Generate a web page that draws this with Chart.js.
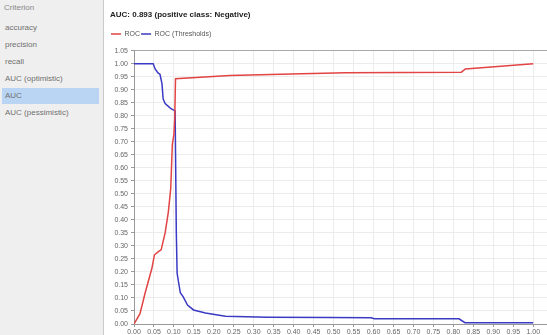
<!DOCTYPE html>
<html><head><meta charset="utf-8">
<script src="https://cdn.jsdelivr.net/npm/chart.js@4/dist/chart.umd.min.js"></script>
<style>
html,body{margin:0;padding:0;width:547px;height:335px;overflow:hidden;background:#fff;font-family:"Liberation Sans",Arial,sans-serif;}
#side{position:absolute;left:0;top:0;width:103px;height:335px;background:#efefef;border-right:1px solid #c9c9c9;}
#side .hd{position:absolute;left:4px;top:3px;font-size:8px;color:#888;}
#side .it{position:absolute;left:2px;width:97px;height:16px;line-height:16px;font-size:8px;color:#707070;padding-left:3px;box-sizing:border-box;}
#side .sel{background:#b9d5f3;}
#wrap{position:absolute;left:104px;top:0;width:457px;height:340px;}
</style></head>
<body>
<div id="side">
  <div class="hd">Criterion</div>
  <div class="it" style="top:20px">accuracy</div>
  <div class="it" style="top:37px">precision</div>
  <div class="it" style="top:54px">recall</div>
  <div class="it" style="top:71px">AUC (optimistic)</div>
  <div class="it sel" style="top:88px">AUC</div>
  <div class="it" style="top:105px">AUC (pessimistic)</div>
</div>
<div id="wrap"><canvas id="c"></canvas></div>
<script>
const chartTitle = "AUC: 0.893 (positive class: Negative)";
const seriesNames = ["ROC", "ROC (Thresholds)"];
// ROC curve: false positive rate -> true positive rate
const rocFpr = [0, 0.015, 0.028, 0.045, 0.051, 0.061, 0.068, 0.078, 0.086, 0.092, 0.096, 0.100, 0.102, 0.104, 0.24, 0.42, 0.53, 0.82, 0.83, 1.0];
const rocTpr = [0, 0.04, 0.12, 0.215, 0.265, 0.278, 0.285, 0.35, 0.43, 0.52, 0.69, 0.73, 0.79, 0.943, 0.955, 0.962, 0.966, 0.968, 0.98, 1.0];
// ROC thresholds: false positive rate -> threshold
const thrFpr = [0, 0.048, 0.053, 0.060, 0.065, 0.070, 0.073, 0.078, 0.091, 0.098, 0.103, 0.106, 0.108, 0.116, 0.123, 0.134, 0.149, 0.179, 0.229, 0.335, 0.49, 0.594, 0.602, 0.814, 0.829, 1.0];
const thrVal = [1.0, 1.0, 0.98, 0.965, 0.96, 0.925, 0.865, 0.847, 0.83, 0.823, 0.82, 0.35, 0.195, 0.12, 0.105, 0.073, 0.054, 0.042, 0.03, 0.026, 0.025, 0.024, 0.02, 0.02, 0.005, 0.005];
const axisMin = 0, axisMax = 1.05, axisStep = 0.05;

const toPts = (xs, ys) => xs.map((x, i) => ({x: x, y: ys[i]}));
const fam = "'Liberation Sans', Arial, sans-serif";
const tickFont = {family: fam, size: 7};
const gridCol = ctx => (ctx.tick && ctx.tick.value > 1.04) ? '#a8a8a8' : '#ececec';

new Chart(document.getElementById('c'), {
  type: 'scatter',
  data: {
    datasets: [
      {label: seriesNames[0], data: toPts(rocFpr, rocTpr), showLine: true, borderColor: '#e24444', backgroundColor: '#e24444', borderWidth: 1.5, pointRadius: 0, tension: 0},
      {label: seriesNames[1], data: toPts(thrFpr, thrVal), showLine: true, borderColor: '#3a3ac4', backgroundColor: '#3a3ac4', borderWidth: 1.5, pointRadius: 0, tension: 0}
    ]
  },
  options: {
    responsive: true, maintainAspectRatio: false, animation: false,
    layout: {padding: {left: 6, right: 0, top: 0, bottom: 0}},
    plugins: {
      title: {display: true, text: chartTitle, align: 'start', color: '#222', font: {family: fam, size: 8, weight: 'bold'}, padding: {top: 10, bottom: 10}},
      subtitle: {display: true, text: ' ', weight: 500, font: {family: fam, size: 1}, padding: {top: 0, bottom: 2}},
      legend: {display: true, align: 'start', labels: {usePointStyle: true, pointStyle: 'line', pointStyleWidth: 10, boxWidth: 10, boxHeight: 2, padding: 1, color: '#555', font: {family: fam, size: 7}}},
      tooltip: {enabled: false}
    },
    scales: {
      x: {type: 'linear', min: axisMin, max: axisMax,
          ticks: {stepSize: axisStep, autoSkip: false, maxRotation: 0, font: tickFont, color: '#666', padding: 1, callback: v => v.toFixed(2)},
          grid: {color: '#ececec', tickColor: '#999', tickLength: 3},
          border: {color: '#999'},
          afterFit: s => { s.height = 16; }},
      y: {type: 'linear', min: axisMin, max: axisMax,
          ticks: {stepSize: axisStep, autoSkip: false, font: tickFont, color: '#666', padding: 3, callback: v => v.toFixed(2)},
          grid: {color: gridCol, tickColor: '#999', tickLength: 3},
          border: {color: '#999'},
          afterFit: s => { s.width = 24; }}
    }
  }
});
</script>
</body></html>
